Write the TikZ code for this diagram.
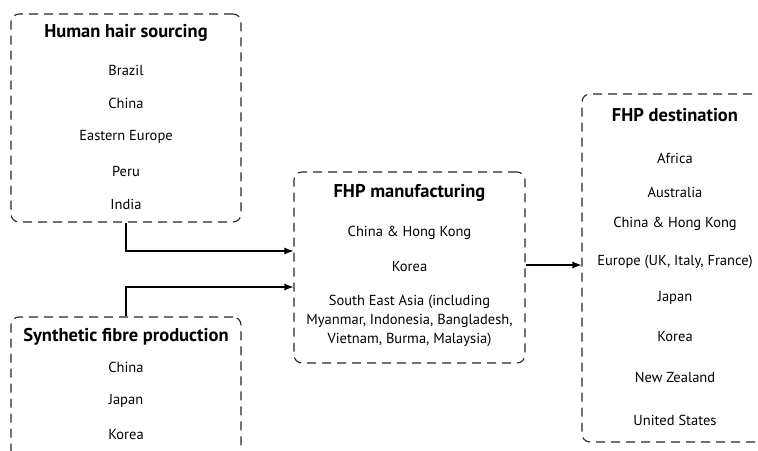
\documentclass[tikz,border=0pt]{standalone}
\usepackage{fontspec}
\setmainfont{PT Sans}
\usetikzlibrary{arrows.meta}
\tikzset{
  region/.style={draw=black!85, line width=1.1pt, dash pattern=on 9pt off 6pt, rounded corners=8pt, inner sep=0pt},
  ttl/.style={font=\fontsize{18.5}{20}\selectfont\bfseries, inner sep=0pt},
  itm/.style={font=\fontsize{14.5}{19}\selectfont, inner sep=0pt, align=center},
  arr/.style={line width=1.1pt, -{Latex[length=9pt,width=7pt]}}
}
\begin{document}
\begin{tikzpicture}[x=1pt,y=-1pt]
\useasboundingbox (0,0) rectangle (758,450);
\clip (0,0) rectangle (758,450);
% boxes
\node[region, minimum width=230pt, minimum height=208pt] (hair) at (126,118) {};
\node[region, minimum width=230pt, minimum height=166pt] (synth) at (126,400) {};
\node[region, minimum width=231pt, minimum height=191pt] (mfg) at (409.5,267.5) {};
\node[region, minimum width=208pt, minimum height=348pt] (dest) at (686,268) {};
% hair texts
\node[ttl] (h0) at (126,33) {Human hair sourcing};
\node[itm] (h1) at (126,70) {Brazil};
\node[itm] (h2) at (126,103) {China};
\node[itm] (h3) at (126,137) {Eastern Europe};
\node[itm] (h4) at (126,171) {Peru};
\node[itm] (h5) at (126,204) {India};
% synth texts
\node[ttl] (s0) at (126,337) {Synthetic fibre production};
\node[itm] (s1) at (126,367) {China};
\node[itm] (s2) at (126,401) {Japan};
\node[itm] (s3) at (126,435) {Korea};
% mfg texts
\node[ttl] (m0) at (409.5,193) {FHP manufacturing};
\node[itm] (m1) at (409.5,233) {China \& Hong Kong};
\node[itm] (m2) at (409.5,267) {Korea};
\node[itm] (m3) at (409.5,321) {South East Asia (including\\Myanmar, Indonesia, Bangladesh,\\Vietnam, Burma, Malaysia)};
% dest texts
\node[ttl] (d0) at (675,115) {FHP destination};
\node[itm] (d1) at (675,158) {Africa};
\node[itm] (d2) at (675,192) {Australia};
\node[itm] (d3) at (675,224) {China \& Hong Kong};
\node[itm] (d4) at (675,262) {Europe (UK, Italy, France)};
\node[itm] (d5) at (675,298) {Japan};
\node[itm] (d6) at (675,337) {Korea};
\node[itm] (d7) at (675,377) {New Zealand};
\node[itm] (d8) at (675,420) {United States};
% connectors
\coordinate (in1) at (mfg.west |- 0,251);
\coordinate (in2) at (mfg.west |- 0,287);
\coordinate (out1) at (mfg.east |- 0,265);
\coordinate (dst1) at (dest.west |- 0,265);
\draw[arr] (hair.south) |- (in1);
\draw[arr] (synth.north) |- (in2);
\draw[arr] (out1) -- (dst1);
\end{tikzpicture}
\end{document}
